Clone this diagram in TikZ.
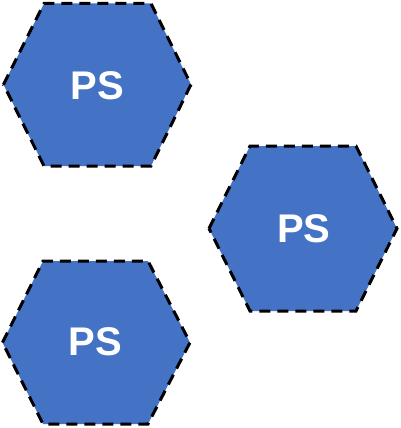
\documentclass[tikz,border=0pt]{standalone}
\usepackage{fontspec}
\setmainfont{Liberation Sans}
\definecolor{hexblue}{HTML}{4472C4}
\begin{document}
\begin{tikzpicture}[x=1pt,y=-1pt,
  hexbox/.style={fill=hexblue, draw=black, line width=3pt, dash pattern=on 11pt off 7pt, line join=miter},
  pslabel/.style={text=white, font=\fontsize{40}{48}\selectfont\bfseries, inner sep=0pt}]
\useasboundingbox (0,0) rectangle (401,428);
% hexagons
\path[hexbox] (3.5,84.5) -- (44,3.5) -- (151,3.5) -- (191,84.5) -- (151,166) -- (44,166) -- cycle;
\path[hexbox] (209,228.5) -- (250,146) -- (356,146) -- (397,228.5) -- (356,311) -- (250,311) -- cycle;
\path[hexbox] (2.5,342.5) -- (43,261) -- (148,261) -- (190,342.5) -- (148,424) -- (43,424) -- cycle;
% labels
\node[pslabel] (ps1) at (97.5,86) {PS};
\node[pslabel] (ps2) at (303.7,229) {PS};
\node[pslabel] (ps3) at (95.5,342) {PS};
\end{tikzpicture}
\end{document}
